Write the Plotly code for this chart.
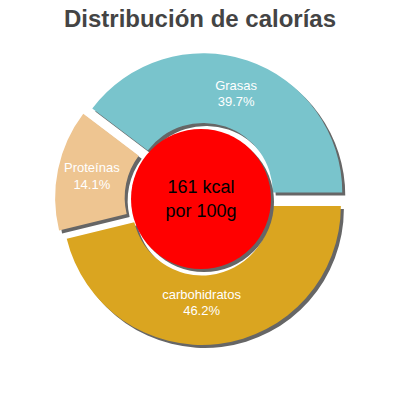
import plotly.graph_objects as go

# datos
labels = ["carbohidratos", "Proteínas", "Grasas"]
percents = [46.2, 14.1, 39.7]
colors = ["#daa520", "#eec591", "#79c4cc"]
kcal = 161
center_text = f"{kcal} kcal<br>por 100g"

W, H = 400, 400
cx, cy = 201, 199      # centro del pastel en px
half = 146             # radio + pull
pull = 0.05
inner_r = 70           # circulo rojo
shadow = 3


def dom(x, y, r):
    return dict(x=[(x - r) / W, (x + r) / W], y=[(H - (y + r)) / H, (H - (y - r)) / H])


fig = go.Figure()

# sombra del anillo
fig.add_trace(go.Pie(
    labels=labels, values=percents, sort=False, direction="clockwise", rotation=90,
    pull=pull, hole=0.5, domain=dom(cx + shadow, cy + shadow, half),
    marker=dict(colors=["#666666"] * 3, line=dict(width=0)),
    textinfo="none", hoverinfo="skip", showlegend=False,
))

# anillo
fig.add_trace(go.Pie(
    labels=labels, values=percents, sort=False, direction="clockwise", rotation=90,
    pull=pull, hole=0.5, domain=dom(cx, cy, half),
    marker=dict(colors=colors, line=dict(width=0)),
    texttemplate="%{label}<br>%{value:.1f}%", textposition="inside",
    insidetextorientation="horizontal",
    textfont=dict(family="Liberation Sans, Arial", size=13, color="#ffffff"),
    showlegend=False,
))

# sombra del circulo central
fig.add_trace(go.Pie(
    values=[1], domain=dom(cx + shadow, cy + shadow, inner_r),
    marker=dict(colors=["#666666"], line=dict(width=0)),
    textinfo="none", hoverinfo="skip", showlegend=False, sort=False,
))

# circulo central
fig.add_trace(go.Pie(
    values=[1], domain=dom(cx, cy, inner_r), text=[center_text],
    marker=dict(colors=["#ff0000"], line=dict(width=0)),
    textinfo="text", textposition="inside", insidetextorientation="horizontal",
    textfont=dict(family="Liberation Sans, Arial", size=18, color="#000000"),
    hoverinfo="skip", showlegend=False, sort=False,
))

fig.update_layout(
    width=W, height=H,
    margin=dict(l=0, r=0, t=0, b=0),
    paper_bgcolor="white", plot_bgcolor="white",
    title=dict(text="<b>Distribución de calorías</b>", x=0.5, xanchor="center",
               y=1 - 19 / H, yref="container", yanchor="middle",
               font=dict(family="Liberation Sans, Arial", size=24, color="#444444")),
)

# sin el margen por defecto del body
fig.write_html("out.html", config={"displayModeBar": False},
               post_script="document.body.style.margin = '0';")
